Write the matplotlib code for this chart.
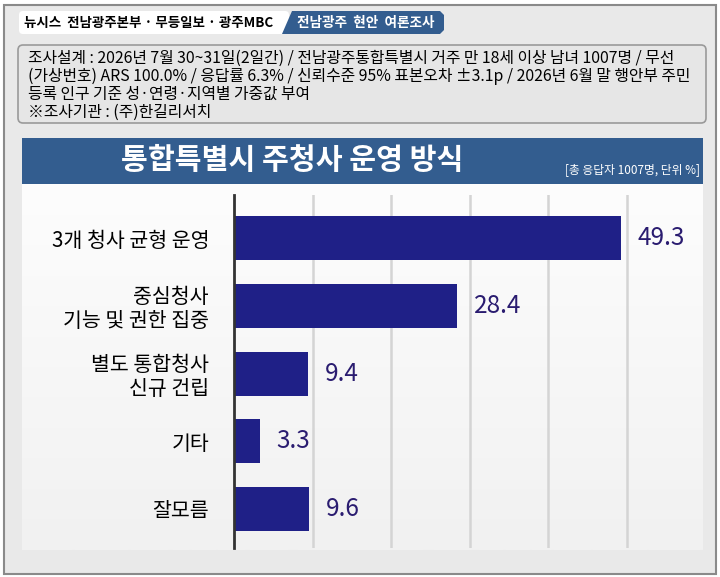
import numpy as np
import matplotlib
matplotlib.use("Agg")
import matplotlib.pyplot as plt
from matplotlib.patches import FancyBboxPatch, Rectangle, Polygon

plt.rcParams['font.family'] = ['Noto Sans CJK KR', 'DejaVu Sans']

# 데이터
categories = ["3개 청사 균형 운영", "중심청사\n기능 및 권한 집중", "별도 통합청사\n신규 건립", "기타", "잘모름"]
values = [49.3, 28.4, 9.4, 3.3, 9.6]

header_left = "뉴시스  전남광주본부 · 무등일보 · 광주MBC"
header_right = "전남광주  현안  여론조사"
info_lines = [
    "조사설계 : 2026년 7월 30~31일(2일간) / 전남광주통합특별시 거주 만 18세 이상 남녀 1007명 / 무선",
    "(가상번호) ARS 100.0% / 응답률 6.3% / 신뢰수준 95% 표본오차 ±3.1p / 2026년 6월 말 행안부 주민",
    "등록 인구 기준 성·연령·지역별 가중값 부여",
    "※조사기관 : (주)한길리서치",
]
title = "통합특별시 주청사 운영 방식"
subtitle = "[총 응답자 1007명, 단위 %]"

W, H = 720, 577
BLUE = "#335d8f"
BAR = "#1f2087"
VAL = "#2a1c70"

fig = plt.figure(figsize=(W / 100, H / 100), dpi=100)

# 배경 (픽셀 좌표)
bg = fig.add_axes([0, 0, 1, 1])
bg.set_xlim(0, W)
bg.set_ylim(H, 0)
bg.axis("off")

bg.add_patch(Rectangle((0, 0), W, H, color="white", zorder=0))
bg.add_patch(Rectangle((4, 5), 712, 569, facecolor="#e9e9e9", edgecolor="#8a8a8a", lw=1.5, zorder=1))

# 상단 헤더
bg.add_patch(FancyBboxPatch((19, 11), 270, 23, boxstyle="round,pad=0,rounding_size=4",
                            facecolor="white", edgecolor="none", zorder=2))
bg.add_patch(Polygon([[282, 34], [292, 11], [440, 11], [444, 15], [444, 30], [440, 34]],
                     closed=True, facecolor=BLUE, edgecolor="none", zorder=3))
bg.text(24, 22.5, header_left, fontsize=9.7, fontweight="bold", va="center", ha="left", zorder=4)
bg.text(366, 22.5, header_right, fontsize=9.8, fontweight="bold", color="white",
        va="center", ha="center", zorder=4)

# 조사 개요 박스
bg.add_patch(FancyBboxPatch((18, 45), 688, 78, boxstyle="round,pad=0,rounding_size=5",
                            facecolor="#e6e6e6", edgecolor="#9a9a9a", lw=1.2, zorder=2))
for i, line in enumerate(info_lines):
    bg.text(28, 58 + 18 * i, line, fontsize=11.4, va="center", ha="left", zorder=3)

# 제목 띠
bg.add_patch(Rectangle((22, 138), 681, 46, facecolor=BLUE, edgecolor="none", zorder=2))
bg.text(292, 160, title, fontsize=21, fontweight="bold", color="white",
        va="center", ha="center", zorder=3)
bg.text(700, 170, subtitle, fontsize=8.5, color="white", va="center", ha="right", zorder=3)

# 차트 영역 배경 그라데이션
grad = np.linspace(0, 1, 256).reshape(-1, 1)
bg.imshow(grad, cmap=matplotlib.colors.LinearSegmentedColormap.from_list("g", ["#fdfdfd", "#f1f1f1"]),
          extent=[22, 703, 550, 184], aspect="auto", zorder=2)
bg.set_xlim(0, W)
bg.set_ylim(H, 0)

# 막대 차트
ax_l, ax_r, ax_t, ax_b = 234, 703, 195, 548
ax = fig.add_axes([ax_l / W, 1 - ax_b / H, (ax_r - ax_l) / W, (ax_b - ax_t) / H])
ax.patch.set_alpha(0)
y = np.arange(len(categories))
ax.barh(y, values, height=0.65, color=BAR, zorder=3)
ax.set_xlim(0, (ax_r - ax_l) / 7.85)
ax.set_ylim(4.58, -0.64)
ax.set_xticks([10, 20, 30, 40, 50])
ax.xaxis.grid(True, color="#d4d4d4", lw=1.8, zorder=1)
ax.tick_params(axis="x", length=0, labelbottom=False)
ax.tick_params(axis="y", length=0, pad=18)
ax.set_yticks(y)
ax.set_yticklabels(categories, fontsize=14.8, linespacing=1.1)
for s in ["top", "right", "bottom"]:
    ax.spines[s].set_visible(False)
ax.spines["left"].set_color("#333333")
ax.spines["left"].set_linewidth(2)
ax.spines["left"].set_zorder(4)

for yi, v in zip(y, values):
    ax.annotate(f"{v:.1f}", (v, yi), xytext=(12, 0), textcoords="offset points",
                fontsize=17.5, color=VAL, va="center", ha="left")

fig.savefig("out.png", dpi=100)
